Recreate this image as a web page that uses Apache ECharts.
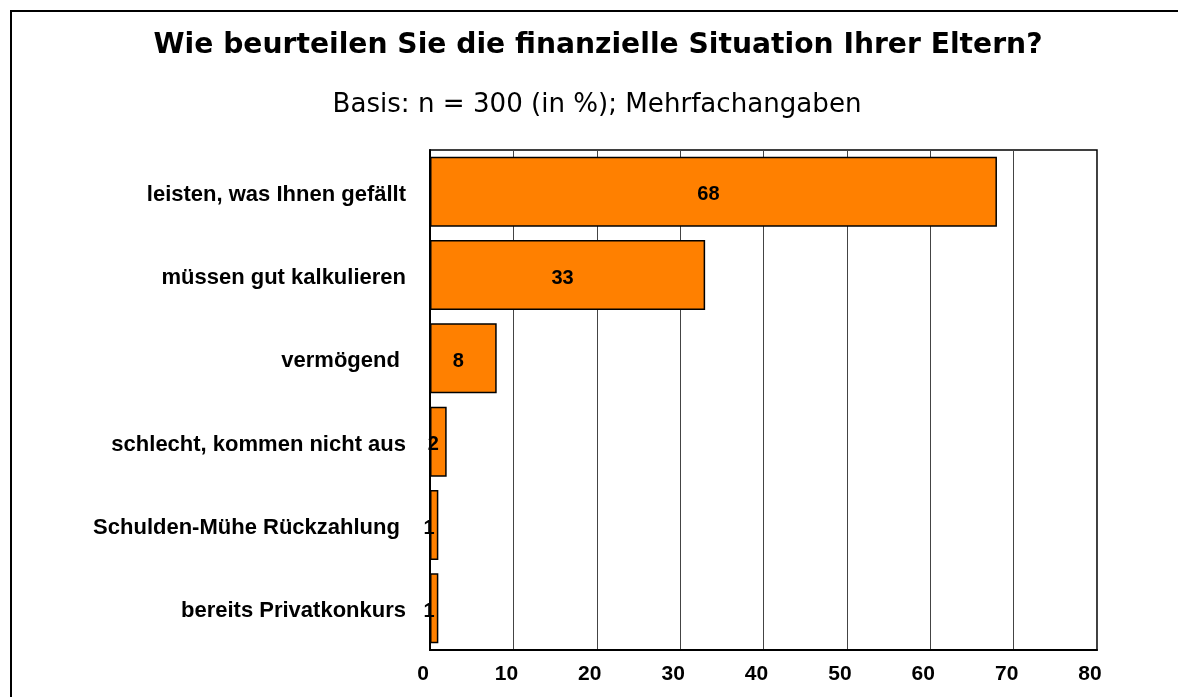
<!DOCTYPE html>
<html>
<head>
<meta charset="utf-8">
<script src="https://cdn.jsdelivr.net/npm/echarts@6/dist/echarts.min.js"></script>
<style>
  html, body { margin: 0; padding: 0; background: #fff; }
  #main { width: 1178px; height: 697px; }
</style>
</head>
<body>
<div id="main"></div>
<script>
// Daten
var categories = ['leisten, was Ihnen gefällt', 'müssen gut kalkulieren', 'vermögend ', 'schlecht, kommen nicht aus', 'Schulden-Mühe Rückzahlung ', 'bereits Privatkonkurs'];
var values = [68, 33, 8, 2, 1, 1];
var xMax = 80;
var xStep = 10;

var myChart = echarts.init(document.getElementById('main'));

var option = {
    backgroundColor: '#fff',
    animation: false,
    title: [{
        text: 'Wie beurteilen Sie die finanzielle Situation Ihrer Eltern?',
        left: 593,
        top: 27,
        textAlign: 'center',
        textStyle: {
            fontFamily: 'DejaVu Sans',
            fontWeight: 'bold',
            fontSize: 28.2,
            color: '#000'
        }
    }, {
        text: 'Basis: n = 300 (in %); Mehrfachangaben',
        left: 592,
        top: 87,
        textAlign: 'center',
        textStyle: {
            fontFamily: 'DejaVu Sans',
            fontWeight: 'normal',
            fontSize: 26.1,
            color: '#000'
        }
    }],
    graphic: [{
        type: 'polyline',
        shape: { points: [[11, 720], [11, 11], [1200, 11]] },
        style: { stroke: '#000', lineWidth: 2, fill: null }
    }],
    grid: {
        left: 430,
        top: 150,
        width: 667,
        height: 500,
        show: true,
        borderColor: '#000',
        borderWidth: 1.5,
        backgroundColor: 'transparent'
    },
    xAxis: {
        type: 'value',
        min: 0,
        max: xMax,
        interval: xStep,
        axisLine: { show: true, lineStyle: { color: '#000', width: 2 } },
        axisTick: { show: false },
        splitLine: { show: true, lineStyle: { color: '#444', width: 1 } },
        axisLabel: {
            color: '#000',
            fontFamily: 'Liberation Sans, Arial',
            fontWeight: 'bold',
            fontSize: 21,
            margin: 14,
            padding: [0, 14, 0, 0]
        }
    },
    yAxis: {
        type: 'category',
        inverse: true,
        data: categories,
        axisLine: { show: true, lineStyle: { color: '#000', width: 2 } },
        axisTick: { show: false },
        axisLabel: {
            color: '#000',
            fontFamily: 'Liberation Sans, Arial',
            fontWeight: 'bold',
            fontSize: 22,
            margin: 24,
            verticalAlign: 'top',
            lineHeight: 6
        }
    },
    series: [{
        type: 'bar',
        data: values,
        barWidth: '84%',
        itemStyle: {
            color: '#ff8000',
            borderColor: '#000',
            borderWidth: 1.5
        },
        label: {
            show: true,
            position: 'inside',
            offset: [-5, 3],
            color: '#000',
            fontFamily: 'Liberation Sans, Arial',
            fontWeight: 'bold',
            fontSize: 20
        }
    }]
};

myChart.setOption(option);
window.onresize = myChart.resize;
</script>
</body>
</html>
